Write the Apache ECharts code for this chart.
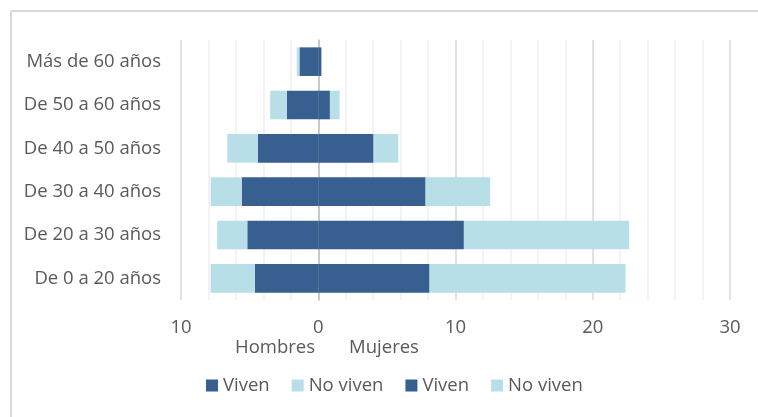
<!DOCTYPE html>
<html>
<head>
<meta charset="utf-8">
<script src="https://cdn.jsdelivr.net/npm/echarts@6/dist/echarts.min.js"></script>
<style>html,body{margin:0;padding:0;background:#fff}#c{width:758px;height:417px}</style>
</head>
<body>
<div id="c"></div>
<script>
const categories = ['De 0 a 20 años','De 20 a 30 años','De 30 a 40 años','De 40 a 50 años','De 50 a 60 años','Más de 60 años'];
const hombresViven = [4.61, 5.17, 5.58, 4.41, 2.28, 1.37];
const hombresNoViven = [3.23, 2.19, 2.26, 2.22, 1.22, 0.2];
const mujeresViven = [8.11, 10.61, 7.82, 4.03, 0.85, 0.23];
const mujeresNoViven = [14.28, 12.04, 4.71, 1.8, 0.71, 0];
const xTicks = [-10, 0, 10, 20, 30];

const dark = '#375F8F', light = '#B8DEE8';
const font = '"Open Sans", "Noto Sans", sans-serif';
const fs = 18.5;
const chart = echarts.init(document.getElementById('c'));
const neg = a => a.map(v => -v);
function bar(name, data, color, stack) {
  return { name, type: 'bar', stack, data, barWidth: '66%', itemStyle: { color }, emphasis: { disabled: true } };
}
chart.setOption({
  animation: false,
  grid: { left: 181, right: 28, top: 40, bottom: 117 },
  xAxis: {
    type: 'value', min: xTicks[0], max: xTicks[xTicks.length - 1], interval: 10,
    axisLine: { show: false }, axisTick: { show: false },
    axisLabel: { formatter: v => Math.abs(v), color: '#595959', fontSize: fs, fontFamily: font, margin: 18 },
    splitLine: { show: true, lineStyle: { color: '#d9d9d9', width: 1.5 } },
    minorTick: { show: false, splitNumber: 5 },
    minorSplitLine: { show: true, lineStyle: { color: '#f0f0f0', width: 1.5 } }
  },
  yAxis: {
    type: 'category', data: categories,
    axisLine: { show: true, onZero: true, lineStyle: { color: '#bfbfbf', width: 1.5 } },
    axisTick: { show: false },
    axisLabel: { color: '#595959', fontSize: fs, fontFamily: font, margin: 20 }
  },
  legend: {
    left: 206, top: 376, padding: 0, itemWidth: 12, itemHeight: 12, itemGap: 22,
    icon: 'rect',
    textStyle: { color: '#595959', fontSize: fs, fontFamily: font },
    formatter: n => n.split(' - ')[1],
    data: ['Hombres - Viven', 'Hombres - No viven', 'Mujeres - Viven', 'Mujeres - No viven']
  },
  graphic: [
    { type: 'line', shape: { x1: 11, y1: 11, x2: 758, y2: 11 }, style: { stroke: '#d9d9d9', lineWidth: 2 } },
    { type: 'line', shape: { x1: 11, y1: 11, x2: 11, y2: 417 }, style: { stroke: '#d9d9d9', lineWidth: 2 } },
    { type: 'text', x: 275, y: 348, style: { text: 'Hombres', fill: '#595959', font: fs + 'px ' + font, align: 'center', verticalAlign: 'middle' } },
    { type: 'text', x: 384, y: 348, style: { text: 'Mujeres', fill: '#595959', font: fs + 'px ' + font, align: 'center', verticalAlign: 'middle' } }
  ],
  series: [
    bar('Hombres - Viven', neg(hombresViven), dark, 'h'),
    bar('Hombres - No viven', neg(hombresNoViven), light, 'h'),
    bar('Mujeres - Viven', mujeresViven, dark, 'h'),
    bar('Mujeres - No viven', mujeresNoViven, light, 'h')
  ]
});
</script>
</body>
</html>
